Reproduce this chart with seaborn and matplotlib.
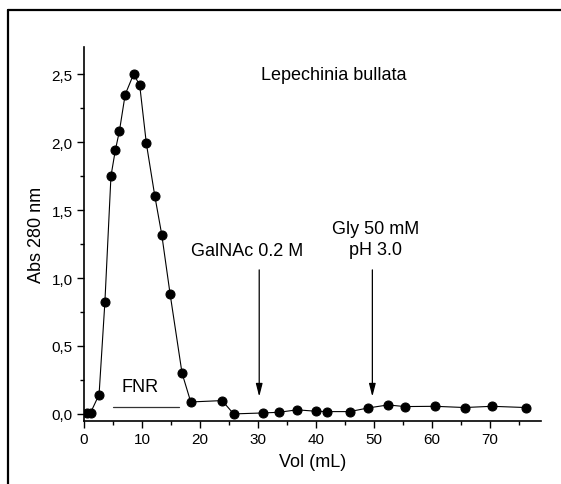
import matplotlib
matplotlib.use("Agg")
import matplotlib.pyplot as plt
from matplotlib import ticker as mtick
from matplotlib.lines import Line2D
import pandas as pd
import seaborn as sns

# elution profile
vol = [0.45, 1.15, 2.6, 3.6, 4.65, 5.4, 6.1, 7.1, 8.55, 9.6, 10.75, 12.2, 13.4, 14.85,
       16.9, 18.4, 23.8, 25.8, 30.8, 33.6, 36.7, 39.9, 41.9, 45.8, 49.0, 52.4, 55.3,
       60.5, 65.6, 70.3, 76.1]
absorb = [0.005, 0.01, 0.142, 0.82, 1.75, 1.94, 2.08, 2.35, 2.5, 2.42, 1.99, 1.605,
          1.32, 0.88, 0.30, 0.088, 0.098, 0.0, 0.007, 0.012, 0.03, 0.02, 0.017, 0.017,
          0.044, 0.066, 0.054, 0.056, 0.047, 0.056, 0.047]

xticks = [0, 10, 20, 30, 40, 50, 60, 70]
yticks = [0.0, 0.5, 1.0, 1.5, 2.0, 2.5]
ytick_labels = ["0,0", "0,5", "1,0", "1,5", "2,0", "2,5"]

arrow_x = [30.2, 49.7]
arrow_labels = ["GalNAc 0.2 M", "Gly 50 mM\npH 3.0"]
arrow_label_x = [28.2, 50.2]
arrow_label_y = [1.206, 1.289]

df = pd.DataFrame({"vol": vol, "abs": absorb})

sns.set_style("ticks")
plt.rcParams["font.family"] = ["Liberation Sans", "DejaVu Sans"]
plt.rcParams["font.size"] = 11
for k in ["text.color", "axes.labelcolor", "xtick.color", "ytick.color", "axes.edgecolor"]:
    plt.rcParams[k] = "black"

fig = plt.figure(figsize=(5.61, 4.85), dpi=100)
ax = fig.add_axes([0.1497, 0.1305, 0.814, 0.7705])

sns.lineplot(df, x="vol", y="abs", ax=ax, estimator=None, sort=False,
             color="black", linewidth=0.8, marker="o", markersize=6.5,
             markeredgecolor="black", markerfacecolor="black")

ax.set_xlim(0, 78.7)
ax.set_ylim(-0.05, 2.7)
ax.set_xticks(xticks)
ax.set_yticks(yticks)
ax.set_yticklabels(ytick_labels)
ax.xaxis.set_minor_locator(mtick.MultipleLocator(5))
ax.yaxis.set_minor_locator(mtick.MultipleLocator(0.25))
ax.tick_params(which="major", direction="out", length=5, width=1, colors="black",
               labelsize=11, pad=3)
ax.tick_params(which="minor", direction="out", length=3, width=1, colors="black")
sns.despine(ax=ax)
for s in ["left", "bottom"]:
    ax.spines[s].set_linewidth(1.2)
    ax.spines[s].set_color("black")

ax.set_xlabel("Vol (mL)", fontsize=13, labelpad=5, color="black")
ax.set_ylabel("Abs 280 nm", fontsize=13, labelpad=5, color="black")

ax.text(43.0, 2.495, "Lepechinia bullata", ha="center", va="center", fontsize=13, color="black")
for x, lab, lx, ly in zip(arrow_x, arrow_labels, arrow_label_x, arrow_label_y):
    ax.text(lx, ly, lab, ha="center", va="center", fontsize=13, linespacing=1.3, color="black")
    ax.annotate("", xy=(x, 0.127), xytext=(x, 1.06),
                arrowprops=dict(arrowstyle="-|>,head_width=0.18,head_length=0.7",
                                color="black", lw=0.9, shrinkA=0, shrinkB=0))

ax.text(9.66, 0.204, "FNR", ha="center", va="center", fontsize=13, color="black")
ax.plot([4.95, 16.4], [0.054, 0.054], color="#333333", linewidth=0.9)

# outer frame (only left and top edges visible)
fy = 1 - 11 / 485
fx = 7.5 / 561
fig.add_artist(Line2D([fx, fx], [0, fy], transform=fig.transFigure, color="black", linewidth=1.6))
fig.add_artist(Line2D([fx, 1], [fy, fy], transform=fig.transFigure, color="black", linewidth=1.6))

fig.savefig("out.png", dpi=100)
